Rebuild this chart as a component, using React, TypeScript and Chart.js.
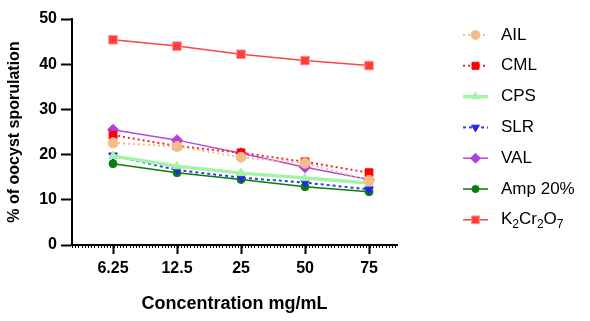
import React, { useEffect, useRef } from "react";
import { Chart, registerables } from "chart.js";

Chart.register(...registerables);

const categories = ["6.25", "12.5", "25", "50", "75"];
const ail = [22.6, 21.8, 19.4, 18.1, 14.3];
const cml = [24.3, 21.9, 20.4, 18.4, 16.0];
const cps = [19.7, 17.4, 15.9, 14.8, 13.7];
const slr = [19.8, 16.6, 14.9, 13.8, 12.3];
const val = [25.5, 23.2, 20.3, 17.2, 14.5];
const amp = [18.0, 16.0, 14.5, 12.9, 11.8];
const k2cr2o7 = [45.4, 44.0, 42.2, 40.8, 39.7];
const yTicks = [0, 10, 20, 30, 40, 50];

const FONT = "'Liberation Sans', Arial, sans-serif";

type Series = {
  label: string;
  data: number[];
  color: string;
  fill: string;
  border: string;
  width: number;
  dash: number[];
  style: string;
  radius: number;
  rotation: number;
};

const series: Series[] = [
  { label: "AIL", data: ail, color: "#F5BC8A", fill: "#F5BC8A", border: "#F5BC8A", width: 2, dash: [2, 3], style: "circle", radius: 5, rotation: 0 },
  { label: "CML", data: cml, color: "#FF2020", fill: "#FF0000", border: "#FF0000", width: 2, dash: [2, 3], style: "rect", radius: 5.5, rotation: 0 },
  { label: "CPS", data: cps, color: "#A3F5A3", fill: "#A3F5A3", border: "#A3F5A3", width: 3.5, dash: [], style: "triangle", radius: 5, rotation: 0 },
  { label: "SLR", data: slr, color: "#3838F0", fill: "#2626E8", border: "#2626E8", width: 2, dash: [3, 3], style: "triangle", radius: 5, rotation: 180 },
  { label: "VAL", data: val, color: "#B648E0", fill: "#B040E0", border: "#B040E0", width: 1.5, dash: [], style: "rectRot", radius: 5.5, rotation: 0 },
  { label: "Amp 20%", data: amp, color: "#0A7A0A", fill: "#0A800A", border: "#0A800A", width: 1.5, dash: [], style: "circle", radius: 4, rotation: 0 },
  { label: "K2Cr2O7", data: k2cr2o7, color: "#FF4444", fill: "#FF3B3B", border: "#FF8A8A", width: 1.5, dash: [], style: "rect", radius: 6, rotation: 0 },
];

function marker(ctx: CanvasRenderingContext2D, style: string, r: number, rot: number, x: number, y: number) {
  ctx.beginPath();
  if (style === "circle") {
    ctx.arc(x, y, r, 0, Math.PI * 2);
  } else if (style === "rect") {
    const s = r * Math.SQRT1_2;
    ctx.rect(x - s, y - s, 2 * s, 2 * s);
  } else if (style === "rectRot") {
    ctx.moveTo(x, y - r);
    ctx.lineTo(x + r, y);
    ctx.lineTo(x, y + r);
    ctx.lineTo(x - r, y);
    ctx.closePath();
  } else if (style === "triangle") {
    const a = (rot * Math.PI) / 180;
    for (let k = 0; k < 3; k++) {
      const t = a - Math.PI / 2 + (k * 2 * Math.PI) / 3;
      const px = x + Math.cos(t) * r;
      const py = y + Math.sin(t) * r;
      if (k === 0) ctx.moveTo(px, py);
      else ctx.lineTo(px, py);
    }
    ctx.closePath();
  }
  ctx.fill();
  ctx.stroke();
}

const minorTicks = {
  id: "minorTicks",
  afterDraw(chart: any) {
    const x = chart.scales.x;
    const ctx = chart.ctx;
    const y = chart.chartArea.bottom;
    ctx.save();
    ctx.strokeStyle = "#000";
    ctx.lineWidth = 1;
    for (let v = x.min; v <= x.max; v += 0.05) {
      const px = Math.round(x.getPixelForValue(v)) + 0.5;
      ctx.beginPath();
      ctx.moveTo(px, y);
      ctx.lineTo(px, y + 3);
      ctx.stroke();
    }
    ctx.restore();
  },
};

const customLegend = {
  id: "customLegend",
  afterDraw(chart: any) {
    const ctx = chart.ctx;
    const x0 = chart.chartArea.right + 66;
    const lineW = 25;
    const y0 = 35;
    const step = 30.8;
    ctx.save();
    chart.data.datasets.forEach((_ds: any, i: number) => {
      const s = series[i];
      const y = y0 + i * step;
      ctx.save();
      ctx.strokeStyle = s.color;
      ctx.lineWidth = s.width;
      ctx.setLineDash(s.dash);
      ctx.beginPath();
      ctx.moveTo(x0, y);
      ctx.lineTo(x0 + lineW, y);
      ctx.stroke();
      ctx.restore();
      ctx.save();
      ctx.fillStyle = s.fill;
      ctx.strokeStyle = s.border;
      ctx.lineWidth = 1;
      ctx.setLineDash([]);
      marker(ctx, s.style, s.radius * 0.9, s.rotation, x0 + lineW / 2, y);
      ctx.restore();
      ctx.fillStyle = "#000";
      ctx.textBaseline = "middle";
      ctx.textAlign = "left";
      const tx = x0 + 38;
      if (s.label === "K2Cr2O7") {
        const parts = [["K", 0], ["2", 1], ["Cr", 0], ["2", 1], ["O", 0], ["7", 1]] as [string, number][];
        let cx = tx;
        for (const [t, sub] of parts) {
          ctx.font = sub ? `12px ${FONT}` : `17px ${FONT}`;
          ctx.fillText(t, cx, sub ? y + 5 : y);
          cx += ctx.measureText(t).width;
        }
      } else {
        ctx.font = `17px ${FONT}`;
        ctx.fillText(s.label, tx, y);
      }
    });
    ctx.restore();
  },
};

export default function App() {
  const ref = useRef<HTMLCanvasElement>(null);
  useEffect(() => {
    if (!ref.current) return;
    const chart = new Chart(ref.current, {
      type: "line",
      data: {
        datasets: series.map((s) => ({
          label: s.label,
          data: s.data.map((v, i) => ({ x: i + 1, y: v })),
          borderColor: s.color,
          backgroundColor: s.fill,
          borderWidth: s.width,
          borderDash: s.dash,
          pointStyle: s.style as any,
          pointRadius: s.radius,
          pointRotation: s.rotation,
          pointBackgroundColor: s.fill,
          pointBorderColor: s.border,
          pointBorderWidth: 1,
          tension: 0,
          fill: false,
        })),
      },
      options: {
        responsive: false,
        animation: false,
        devicePixelRatio: 1,
        layout: { padding: { left: 0, right: 193, top: 19, bottom: 0 } },
        plugins: { legend: { display: false }, tooltip: { enabled: false } },
        scales: {
          x: {
            type: "linear",
            min: 0.359,
            max: 5.437,
            afterBuildTicks: (scale: any) => {
              scale.ticks = categories.map((_, i) => ({ value: i + 1 }));
            },
            afterFit: (scale: any) => {
              scale.height = 76;
            },
            ticks: {
              autoSkip: false,
              maxRotation: 0,
              color: "#000",
              padding: 5,
              font: { family: FONT, size: 16, weight: "bold" },
              callback: (v: any) => categories[Math.round(Number(v)) - 1] ?? "",
            },
            grid: { drawOnChartArea: false, tickLength: 9, tickWidth: 2, tickColor: "#000" },
            border: { color: "#000", width: 2 },
            title: {
              display: true,
              text: "Concentration mg/mL",
              color: "#000",
              font: { family: FONT, size: 18, weight: "bold" },
              padding: { top: 0, bottom: 6 },
            },
          },
          y: {
            min: 0,
            max: 50,
            afterBuildTicks: (scale: any) => {
              scale.ticks = yTicks.map((v) => ({ value: v }));
            },
            afterFit: (scale: any) => {
              scale.width = 72;
            },
            ticks: {
              color: "#000",
              padding: 4,
              font: { family: FONT, size: 16, weight: "bold" },
            },
            grid: { drawOnChartArea: false, tickLength: 11, tickWidth: 2, tickColor: "#000" },
            border: { color: "#000", width: 2 },
            title: {
              display: true,
              text: "% of oocyst sporulation",
              color: "#000",
              font: { family: FONT, size: 16, weight: "bold" },
              padding: { top: 5, bottom: 0 },
            },
          },
        },
      },
      plugins: [minorTicks, customLegend],
    });
    return () => chart.destroy();
  }, []);
  return (
    <div style={{ position: "fixed", left: 0, top: 0, width: 590, height: 321, background: "#fff" }}>
      <canvas ref={ref} width={590} height={321} />
    </div>
  );
}
